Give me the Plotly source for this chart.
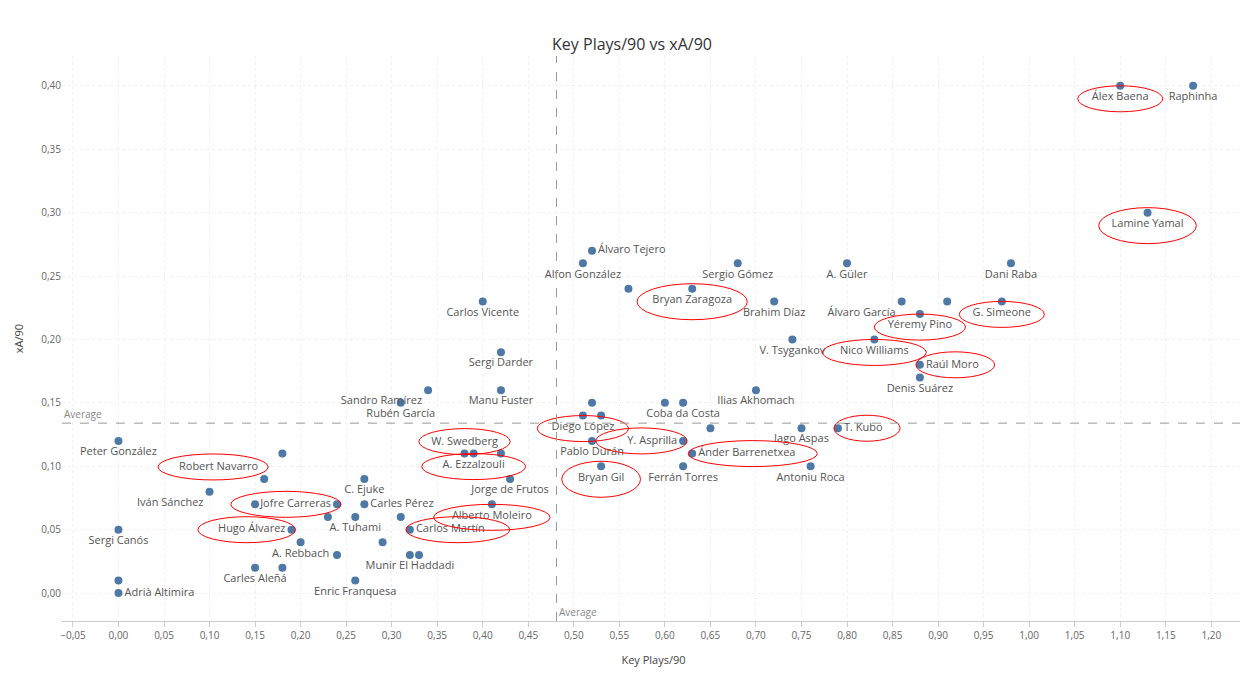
import plotly.graph_objects as go

names = ["Raphinha","Álex Baena","Lamine Yamal","Dani Raba","A. Güler","Sergio Gómez","Álvaro Tejero","Alfon González","","Bryan Zaragoza","Brahim Díaz","Álvaro García","","G. Simeone","Yéremy Pino","Carlos Vicente","V. Tsygankov","Nico Williams","Sergi Darder","Raúl Moro","Denis Suárez","Ilias Akhomach","Sandro Ramírez","Manu Fuster","Rubén García","","","Coba da Costa","Diego López","","","Iago Aspas","T. Kubo","Peter González","Pablo Durán","Y. Asprilla","","W. Swedberg","A. Ezzalzouli","","Ánder Barrenetxea","Bryan Gil","Ferrán Torres","Antoniu Roca","Robert Navarro","C. Ejuke","Jorge de Frutos","Iván Sánchez","","Jofre Carreras","Carles Pérez","Alberto Moleiro","","A. Tuhami","","Sergi Canós","Hugo Álvarez","Carlos Martín","A. Rebbach","","","Munir El Haddadi","","Carles Aleñá","","Enric Franquesa","","Adrià Altimira"]
key_plays = [1.18,1.10,1.13,0.98,0.80,0.68,0.52,0.51,0.56,0.63,0.72,0.86,0.91,0.97,0.88,0.40,0.74,0.83,0.42,0.88,0.88,0.70,0.34,0.42,0.31,0.52,0.60,0.62,0.51,0.53,0.65,0.75,0.79,0.00,0.52,0.62,0.18,0.38,0.39,0.42,0.63,0.53,0.62,0.76,0.16,0.27,0.43,0.10,0.15,0.24,0.27,0.41,0.23,0.26,0.31,0.00,0.19,0.32,0.20,0.29,0.24,0.32,0.33,0.15,0.18,0.26,0.00,0.00]
xa = [0.40,0.40,0.30,0.26,0.26,0.26,0.27,0.26,0.24,0.24,0.23,0.23,0.23,0.23,0.22,0.23,0.20,0.20,0.19,0.18,0.17,0.16,0.16,0.16,0.15,0.15,0.15,0.15,0.14,0.14,0.13,0.13,0.13,0.12,0.12,0.12,0.11,0.11,0.11,0.11,0.11,0.10,0.10,0.10,0.09,0.09,0.09,0.08,0.07,0.07,0.07,0.07,0.06,0.06,0.06,0.05,0.05,0.05,0.04,0.04,0.03,0.03,0.03,0.02,0.02,0.01,0.01,0.00]
positions = {"Álvaro Tejero":"middle right","Alfon González":"bottom center","Álvaro García":"bottom left","Raúl Moro":"middle right","T. Kubo":"middle right","Y. Asprilla":"middle left","Ánder Barrenetxea":"middle right","Hugo Álvarez":"middle left","Jofre Carreras":"middle left","Carlos Martín":"middle right","W. Swedberg":"top center","Robert Navarro":"top left","Iván Sánchez":"bottom left","Adrià Altimira":"middle right","Carles Pérez":"middle right","A. Tuhami":"bottom center","Sandro Ramírez":"bottom left","Coba da Costa":"bottom center","Rubén García":"bottom center"}
highlight = ["Álex Baena","Lamine Yamal","Bryan Zaragoza","Yéremy Pino","G. Simeone","Nico Williams","Raúl Moro","T. Kubo","Diego López","Y. Asprilla","Ánder Barrenetxea","Bryan Gil","W. Swedberg","A. Ezzalzouli","Robert Navarro","Jofre Carreras","Hugo Álvarez","Carlos Martín","Alberto Moleiro"]
avg_x, avg_y = 0.481, 0.134

tp = [positions.get(n, "bottom center") for n in names]
fig = go.Figure(go.Scatter(x=key_plays, y=xa, mode="markers+text", text=names, textposition=tp,
    marker=dict(color="#4e79a7", size=8), textfont=dict(family="Open Sans", size=11, color="#555"),
    hoverinfo="skip"))

shapes = []
for n, x, y, p in zip(names, key_plays, xa, tp):
    if n not in highlight:
        continue
    w = len(n) * 6.3 + 22
    h = 26 if n not in ("Bryan Gil", "Lamine Yamal", "Bryan Zaragoza") else 36
    if p.startswith("bottom"):
        cx, cy = 0, -13
    elif p.startswith("top"):
        cx, cy = 0, 12
    else:
        cx, cy = 0, 0
    if p.endswith("right"):
        cx = w / 2 - 4
    elif p.endswith("left"):
        cx = -w / 2 + 4
    shapes.append(dict(type="circle", xref="x", yref="y", xsizemode="pixel", ysizemode="pixel",
        xanchor=x, yanchor=y, x0=cx - w / 2, x1=cx + w / 2, y0=cy - h / 2, y1=cy + h / 2,
        line=dict(color="red", width=1)))
shapes.append(dict(type="line", xref="x", yref="paper", x0=avg_x, x1=avg_x, y0=0, y1=1,
    line=dict(color="#999", width=1, dash="dash")))
shapes.append(dict(type="line", xref="paper", yref="y", x0=0, x1=1, y0=avg_y, y1=avg_y,
    line=dict(color="#999", width=1, dash="dash")))

fig.update_layout(
    width=1248, height=674, plot_bgcolor="white", paper_bgcolor="white",
    margin=dict(l=44, r=11, t=48, b=61), showlegend=False, separators=",.",
    font=dict(family="Open Sans", color="#666", size=10),
    title=dict(text="Key Plays/90 vs xA/90", x=0.5, y=0.955, font=dict(size=16, color="#333")),
    xaxis=dict(title=dict(text="Key Plays/90", font=dict(size=11, color="#444")), range=[-0.062, 1.237],
        dtick=0.05, tick0=0, tickformat=".2f", showgrid=True, gridcolor="#f0f0f0", griddash="dot",
        zeroline=False, showline=True, linecolor="#ccc", ticks="outside", tickcolor="#ccc"),
    yaxis=dict(title=dict(text="xA/90", font=dict(size=11, color="#444")), range=[-0.022, 0.4235],
        dtick=0.05, tickformat=".2f", showgrid=True, gridcolor="#f0f0f0", griddash="dot",
        zeroline=False, ticks="", showline=False),
    shapes=shapes,
    annotations=[
        dict(text="Average", x=avg_x, y=0, xref="x", yref="paper", xanchor="left", yanchor="bottom",
             showarrow=False, font=dict(size=10, color="#888")),
        dict(text="Average", x=0, y=avg_y, xref="paper", yref="y", xanchor="left", yanchor="bottom",
             showarrow=False, font=dict(size=10, color="#888")),
    ],
)
fig.write_html("out.html")
